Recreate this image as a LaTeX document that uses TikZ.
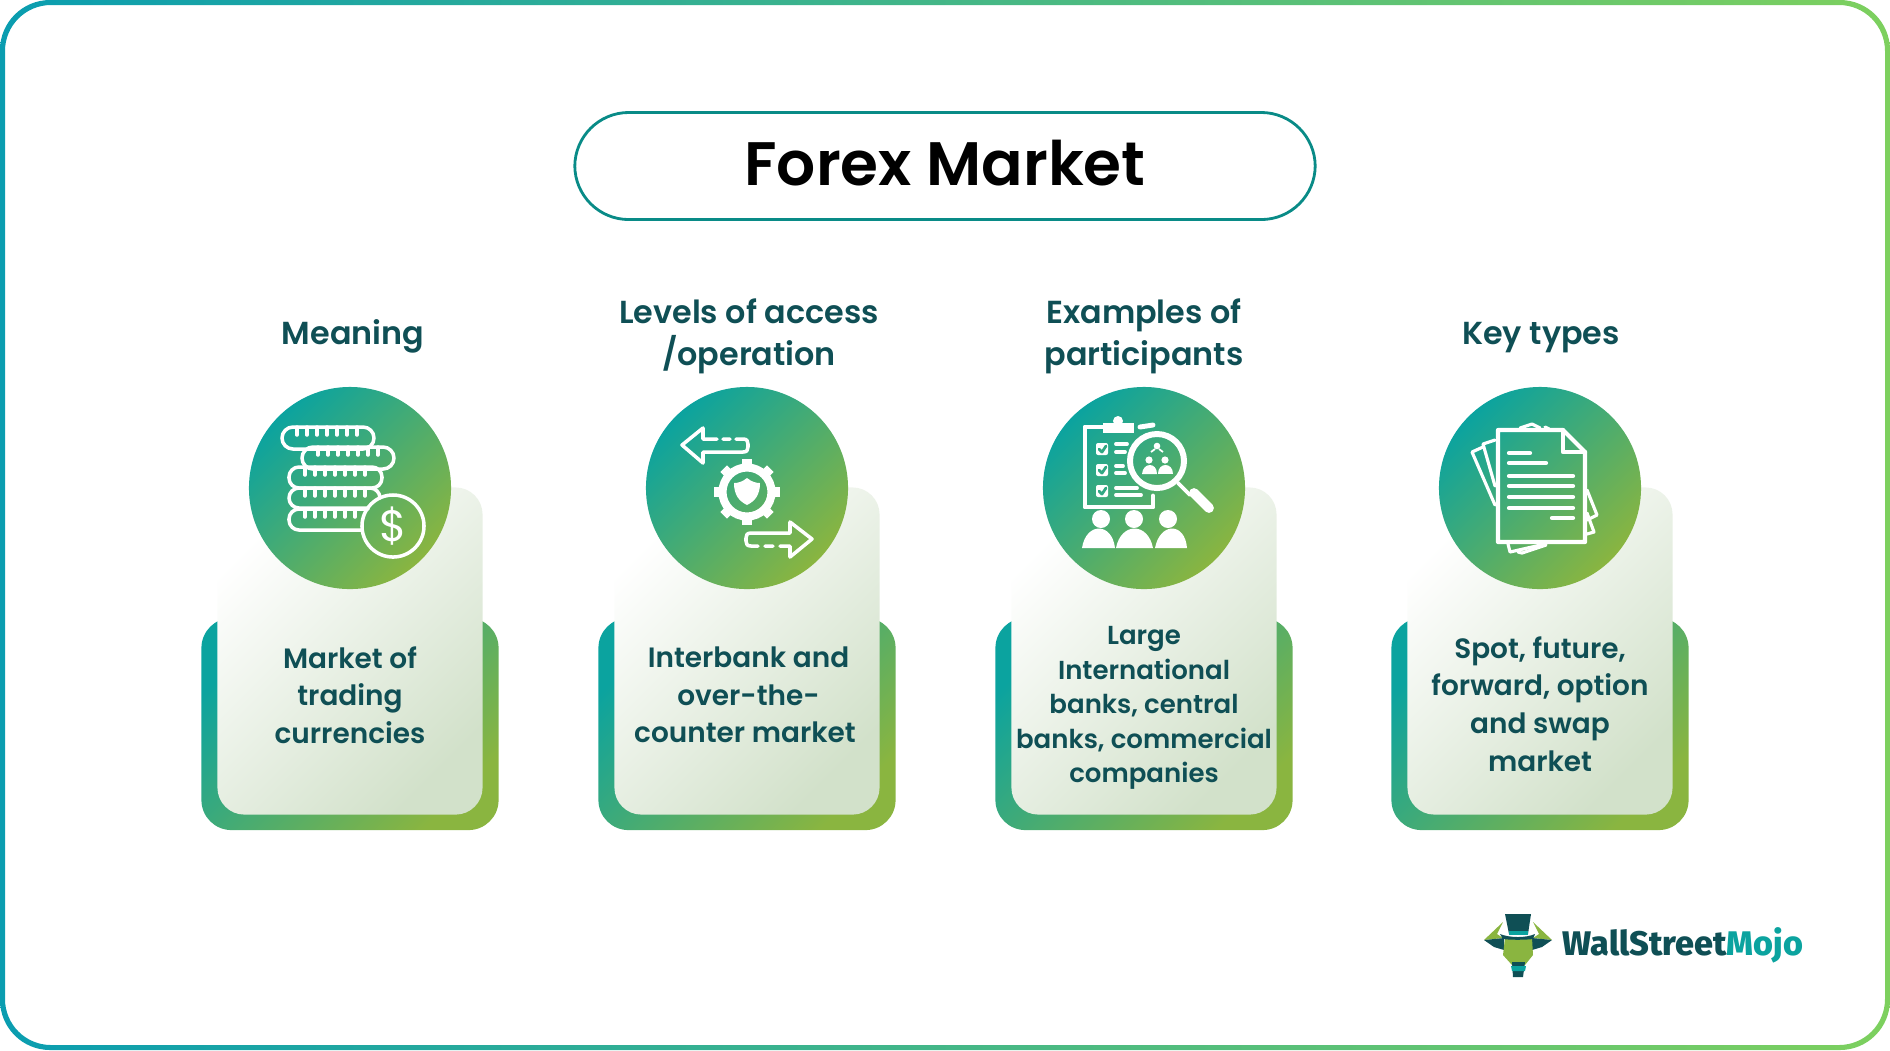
\documentclass[tikz,border=0pt]{standalone}
\usepackage{fontspec}
\setmainfont{Poppins SemiBold}
\newfontfamily\thinfont{Poppins}
\newfontfamily\logofont{Fira Sans ExtraBold}
\definecolor{tealc}{HTML}{0BA39F}
\definecolor{greenc}{HTML}{8AB540}
\definecolor{inkc}{HTML}{0F4F55}
\definecolor{palec}{HTML}{D2E1CA}
\definecolor{frameleft}{HTML}{0A9DB0}
\definecolor{frameright}{HTML}{7DD05E}
\tikzset{
  backcard/.style={rectangle, rounded corners=.3cm, minimum width=2.97cm, minimum height=2.12cm, inner sep=0pt,
    left color=tealc, right color=greenc, shading angle=45},
  frontcard/.style={rectangle, rounded corners=.27cm, minimum width=2.65cm, minimum height=3.27cm, inner sep=0pt,
    left color=white, right color=palec, shading angle=45},
  iconcirc/.style={circle, minimum size=2.02cm, inner sep=0pt, left color=tealc, right color=greenc, shading angle=45},
  headtxt/.style={text=inkc, align=center, font=\fontsize{9.05}{12}\selectfont},
  bodytxt/.style={text=inkc, align=center, font=\fontsize{7.95}{10.7}\selectfont},
  icon/.style={draw=white, line width=1pt, line cap=round, line join=round},
}
\begin{document}
\begin{tikzpicture}[x=0.01cm, y=-0.01cm]
  \useasboundingbox (0,0) rectangle (1890,1050);
  % frame
  \path[left color=frameleft, right color=frameright, even odd rule] [rounded corners=.5cm] (0,0) rectangle (1890,1050) [rounded corners=.46cm] (5,5) rectangle (1885,1045);
  \node[draw=tealc!85!black, line width=.8pt, rounded corners=.54cm, minimum width=7.4cm, minimum height=1.07cm] (pill) at (945,166) {};
  \node[text=black, font=\fontsize{17.45}{21}\selectfont] (title) at (945,163) {Forex Market};

  \node[headtxt] (head1) at (353,336) {Meaning};
  \node[headtxt] (head2) at (749,336) {Levels of access\\/operation};
  \node[headtxt] (head3) at (1144,336) {Examples of\\participants};
  \node[headtxt] (head4) at (1541,338) {Key types};

  \node[backcard] (back1) at (350,724) {};
  \node[backcard] (back2) at (747,724) {};
  \node[backcard] (back3) at (1144,724) {};
  \node[backcard] (back4) at (1540,724) {};
  \node[frontcard] (front1) at (350,651) {};
  \node[frontcard] (front2) at (747,651) {};
  \node[frontcard] (front3) at (1144,651) {};
  \node[frontcard] (front4) at (1540,651) {};
  \node[iconcirc] (circ1) at (350,488) {};
  \node[iconcirc] (circ2) at (747,488) {};
  \node[iconcirc] (circ3) at (1144,488) {};
  \node[iconcirc] (circ4) at (1540,488) {};

  \node[bodytxt] (body1) at (350,695) {Market of\\trading\\currencies};
  \node[bodytxt] (body2) at (745,695) {\hspace*{2pt}Interbank and\\\hspace*{2pt}over-the-\\counter market};
  \node[bodytxt, font=\fontsize{7.4}{9.85}\selectfont] (body3) at (1144,708) {Large\\International\\banks, central\\banks, commercial\\companies};
  \node[bodytxt] (body4) at (1540,704) {Spot, future,\\forward, option\\and swap\\market};

  % coins
  \draw[icon, rounded corners=.11cm] (282,427) rectangle (374,449);
  \draw[icon, rounded corners=.11cm] (302,447) rectangle (394,469);
  \draw[icon, rounded corners=.1cm] (289,467) rectangle (382,488);
  \draw[icon, rounded corners=.1cm] (368,508) -- (289,508) -- (289,488) -- (380,488) -- (380,498);
  \draw[icon, rounded corners=.1cm] (368,509) -- (289,509) -- (289,530) -- (362,530);
  \foreach \tx in {0,10,...,60} {
    \draw[icon] (297+\tx,427) -- ++(0,8);
    \draw[icon] (318+\tx,447) -- ++(0,8);
    \draw[icon] (305+\tx,467) -- ++(0,8);
    \draw[icon] (305+\tx,488) -- ++(0,8);
  }
  \foreach \tx in {0,10,...,50}
    \draw[icon] (305+\tx,509) -- ++(0,8);
  \node[icon, circle, minimum size=.62cm, inner sep=0pt, text=white, font=\thinfont\fontsize{12.5}{13}\selectfont] (dollar) at (393,526) {\$};

  % arrows and gear
  \draw[icon] (717,439) -- (703,439) -- (703,428) -- (682,445) -- (703,463) -- (703,452) -- (743,452) .. controls (747,452) and (748,450) .. (748,447) -- (748,444) .. controls (748,441) and (747,439) .. (743,439) -- (736,439) (730,439) -- (723,439);
  \draw[icon] (758,546) -- (751,546) .. controls (747,546) and (746,544) .. (746,541) -- (746,538) .. controls (746,535) and (747,533) .. (751,533) -- (790,533) -- (790,522) -- (812,539) -- (790,557) -- (790,546) -- (780,546) (773,546) -- (765,546);
  \draw[white, line width=2.3pt] (747,492) circle (.245cm);
  \foreach \ang in {0,45,...,315}
    \draw[white, line width=2.7pt] (747,492) ++(\ang:.26cm) -- ++(\ang:.07cm);
  \fill[white] (747,478) .. controls (752,482) and (756,483) .. (760,483) .. controls (760,495) and (755,501) .. (747,505) .. controls (739,501) and (734,495) .. (734,483) .. controls (738,483) and (742,482) .. (747,478) -- cycle;

  % clipboard
  \draw[icon, line width=1.4pt] (1103,427) -- (1085,427) -- (1085,507) -- (1153,507) -- (1153,496);
  \draw[icon, line width=1.4pt] (1140,427) -- (1153,425);
  \fill[white] (1103,423) rectangle (1134,433);
  \fill[white] (1118,421) circle (.05cm);
  \foreach \cy in {449,470,491} {
    \fill[white, rounded corners=.02cm] (1096,\cy-6) rectangle (1108,\cy+6);
    \draw[tealc!70!greenc, line width=.8pt, line cap=round, line join=round] (1099,\cy) -- (1102,\cy+3) -- (1106,\cy-3);
  }
  \draw[icon, line width=1.1pt] (1116,444) -- (1127,444) (1116,452) -- (1125,452) (1116,466) -- (1123,466) (1116,473) -- (1125,473) (1116,488) -- (1137,488) (1116,495) -- (1141,495);
  \draw[icon, line width=1.7pt] (1157,461) circle (.27cm);
  \draw[icon, line width=1.1pt] (1178,483) -- (1190,495);
  \draw[white, line width=2.8pt, line cap=round] (1194,493) -- (1209,508);
  \fill[white] (1157,446) circle (.033cm) (1149,460) circle (.036cm) (1165,460) circle (.036cm);
  \draw[white, line width=.5pt] (1151,452) -- (1155,449) (1163,452) -- (1159,449);
  \fill[white] (1142,474) .. controls (1143,462) and (1157,462) .. (1157,474) -- cycle;
  \fill[white] (1158,474) .. controls (1158,462) and (1173,462) .. (1173,474) -- cycle;
  \foreach \hx in {1101,1134,1168}
    \fill[white] (\hx,519) circle (.09cm);
  \fill[white] (1082,548) .. controls (1086,522) and (1112,522) .. (1115,548) -- cycle;
  \fill[white] (1116,548) .. controls (1121,522) and (1148,522) .. (1153,548) -- cycle;
  \fill[white] (1155,548) .. controls (1160,522) and (1185,522) .. (1187,548) -- cycle;

  % papers
  \draw[icon, line width=1.2pt] (1498,430) -- (1563,430) -- (1585,452) -- (1585,542) -- (1498,542) -- cycle;
  \draw[icon, line width=1.2pt] (1563,430) -- (1563,452) -- (1585,452);
  \draw[icon, line width=1.2pt] (1509,453) -- (1530,453) (1509,463) -- (1546,463) (1509,476) -- (1573,476) (1509,486) -- (1573,486) (1509,497) -- (1573,497) (1509,508) -- (1573,508) (1552,518) -- (1573,518);
  \draw[icon, line width=.9pt] (1495,440) -- (1483,444) -- (1495,486);
  \draw[icon, line width=.9pt] (1483,447) -- (1472,452) -- (1495,505);
  \draw[icon, line width=.9pt] (1520,428) -- (1532,424) -- (1540,428) (1545,427) -- (1549,429);
  \draw[icon, line width=.9pt] (1587,490) -- (1597,515) -- (1587,520);
  \draw[icon, line width=.9pt] (1587,513) -- (1594,532) -- (1587,534);
  \draw[icon, line width=.9pt] (1508,544) -- (1510,552) -- (1545,544);
  \draw[icon, line width=.9pt] (1518,552) -- (1522,553) -- (1546,545);

  % logo
  \fill[greenc] (1484,940) -- (1503,922) -- (1497,934) -- (1503,938) -- cycle;
  \fill[greenc] (1552,940) -- (1533,922) -- (1539,934) -- (1533,938) -- cycle;
  \fill[inkc] (1484,940) -- (1504,938) -- (1504,950) -- (1494,947) -- cycle;
  \fill[inkc] (1552,940) -- (1532,938) -- (1532,950) -- (1542,947) -- cycle;
  \fill[greenc] (1505,938) -- (1532,938) -- (1533,955) -- (1525,965) -- (1512,965) -- (1503,955) -- cycle;
  \fill[inkc] (1512,962) -- (1525,962) -- (1523,977) -- (1513,977) -- cycle;
  \fill[tealc] (1511,966) -- (1526,966) -- (1525,971) -- (1512,971) -- cycle;
  \fill[inkc] (1505,914) -- (1531,914) -- (1528,934) -- (1509,934) -- cycle;
  \fill[tealc] (1509,931) rectangle (1528,935);
  \fill[inkc] (1500,934) .. controls (1510,938) and (1526,938) .. (1535,934) -- (1533,939) .. controls (1525,940) and (1510,940) .. (1503,939) -- cycle;
  \node[anchor=base west, inner sep=0pt, font=\logofont\fontsize{9.7}{11}\selectfont] (logo) at (1562,955) {\textcolor{inkc}{WallStreet}\textcolor{tealc}{Mojo}};
\end{tikzpicture}
\end{document}
